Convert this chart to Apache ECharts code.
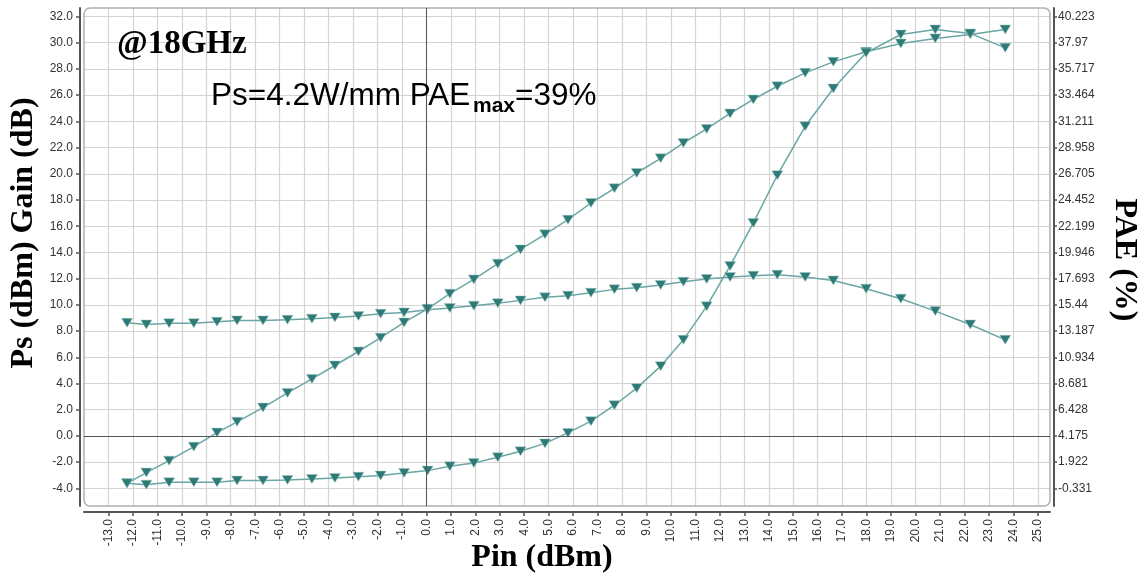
<!DOCTYPE html>
<html>
<head>
<meta charset="utf-8">
<script src="https://cdn.jsdelivr.net/npm/echarts@6/dist/echarts.min.js"></script>
<style>
html,body{margin:0;padding:0;background:#fff;}
#chart{width:1142px;height:574px;}
</style>
</head>
<body>
<div id="chart"></div>
<script>
// Pin (dBm) for every measured point
const pin = [-12.24, -11.45, -10.52, -9.51, -8.56, -7.74, -6.68, -5.68, -4.68, -3.74,
  -2.78, -1.87, -0.91, 0.05, 0.96, 1.94, 2.92, 3.85, 4.85, 5.79,
  6.73, 7.69, 8.60, 9.58, 10.51, 11.46, 12.42, 13.37, 14.35, 15.49,
  16.64, 17.98, 19.40, 20.81, 22.24, 23.67];
// Gain (dB)
const gain = [8.63, 8.50, 8.60, 8.60, 8.71, 8.81, 8.81, 8.86, 8.94, 9.04,
  9.14, 9.32, 9.42, 9.62, 9.75, 9.93, 10.13, 10.34, 10.57, 10.70,
  10.92, 11.18, 11.31, 11.51, 11.76, 11.97, 12.12, 12.22, 12.30, 12.12,
  11.86, 11.23, 10.47, 9.52, 8.50, 7.33];
// Ps (dBm)
const ps = [-3.62, -2.80, -1.89, -0.82, 0.25, 1.07, 2.16, 3.28, 4.35, 5.37,
  6.44, 7.49, 8.66, 9.70, 10.85, 11.94, 13.14, 14.23, 15.38, 16.50,
  17.77, 18.89, 20.06, 21.18, 22.35, 23.42, 24.60, 25.67, 26.68, 27.70,
  28.54, 29.31, 29.94, 30.33, 30.63, 31.01];
// PAE (%)
const pae = [0.10, -0.02, 0.19, 0.19, 0.19, 0.33, 0.33, 0.39, 0.47, 0.56,
  0.67, 0.76, 0.99, 1.19, 1.56, 1.85, 2.34, 2.85, 3.53, 4.43,
  5.44, 6.81, 8.28, 10.17, 12.43, 15.31, 18.78, 22.48, 26.58, 30.79,
  34.04, 37.10, 38.68, 39.11, 38.77, 37.53];

// tick labels
const xTicks = [-13,-12,-11,-10,-9,-8,-7,-6,-5,-4,-3,-2,-1,0,1,2,3,4,5,6,7,8,9,10,11,12,13,14,15,16,17,18,19,20,21,22,23,24,25];
const yTicks = [-4,-2,0,2,4,6,8,10,12,14,16,18,20,22,24,26,28,30,32];
const paeTicks = ['-0.331','1.922','4.175','6.428','8.681','10.934','13.187','15.44','17.693','19.946','22.199','24.452','26.705','28.958','31.211','33.464','35.717','37.97','40.223'];

// axis extents
const xMin = -14, xMax = 25.5;
const yMin = -5.35, yMax = 32.65;
const paeStep = (parseFloat(paeTicks[paeTicks.length-1]) - parseFloat(paeTicks[0])) / (paeTicks.length - 1);
const paeAt = v => parseFloat(paeTicks[0]) + (v - yTicks[0]) / 2 * paeStep;

const G = {left: 84, top: 8, width: 966, height: 498};

const zip = (xs, ys) => xs.map((x, i) => [x, ys[i]]);

const lineColor = '#6aa6a4';
const markColor = '#2d7a77';
const tickFont = {fontFamily: 'Liberation Sans', fontSize: 12, color: '#333'};
const axisLineStyle = {color: '#555', width: 2};

function mkSeries(name, data, yAxisIndex, extra) {
  return Object.assign({
    name, type: 'line', data: zip(pin, data), yAxisIndex,
    symbol: 'triangle', symbolRotate: 180, symbolSize: [11, 9],
    showSymbol: true,
    lineStyle: {color: lineColor, width: 1.5},
    itemStyle: {color: markColor, borderColor: 'rgba(160,200,198,0.8)', borderWidth: 0.6},
    emphasis: {disabled: true},
    animation: false, z: 3
  }, extra || {});
}

const chart = echarts.init(document.getElementById('chart'), null, {renderer: 'canvas'});
chart.setOption({
  backgroundColor: '#fff',
  animation: false,
  grid: {left: G.left, top: G.top, width: G.width, height: G.height, containLabel: false},
  xAxis: {
    type: 'value', min: xMin, max: xMax, interval: 1, offset: 6,
    axisLine: {show: true, onZero: false, lineStyle: axisLineStyle},
    axisTick: {show: true, length: 4, customValues: xTicks, lineStyle: {color: '#555', width: 1.5}},
    axisLabel: Object.assign({customValues: xTicks, rotate: 90, margin: 7, formatter: v => v.toFixed(1)}, tickFont),
    splitLine: {show: true, lineStyle: {color: '#d4d4d4', width: 1.2}}
  },
  yAxis: [{
    type: 'value', min: yMin, max: yMax, splitNumber: 19, offset: 4, position: 'left',
    axisLine: {show: true, onZero: false, lineStyle: axisLineStyle},
    axisTick: {show: true, length: 4, customValues: yTicks, lineStyle: {color: '#555', width: 1.5}},
    axisLabel: Object.assign({customValues: yTicks, margin: 7, formatter: v => v.toFixed(1)}, tickFont),
    splitLine: {show: true, lineStyle: {color: '#d4d4d4', width: 1.2}}
  }, {
    type: 'value', min: paeAt(yMin), max: paeAt(yMax), offset: 4, position: 'right',
    axisLine: {show: true, onZero: false, lineStyle: axisLineStyle},
    axisTick: {show: true, length: 3, customValues: paeTicks.map(parseFloat), lineStyle: {color: '#555', width: 1.5}},
    axisLabel: Object.assign({customValues: paeTicks.map(parseFloat), margin: 4,
      formatter: v => String(parseFloat(v.toFixed(3)))}, tickFont),
    splitLine: {show: false}
  }],
  series: [
    mkSeries('Gain', gain, 0, {
      markLine: {
        silent: true, symbol: ['none', 'none'], animation: false,
        label: {show: false},
        lineStyle: {color: '#555', width: 1, type: 'solid'},
        emphasis: {disabled: true},
        data: [{xAxis: 0}, {yAxis: 0}]
      }
    }),
    mkSeries('Ps', ps, 0),
    mkSeries('PAE', pae, 1)
  ],
  graphic: [
    {type: 'rect', z: 1, silent: true,
     shape: {x: G.left, y: G.top, width: G.width, height: G.height, r: 6},
     style: {fill: 'none', stroke: '#b0b0b0', lineWidth: 1.5}},
    {type: 'text', z: 10, x: 117, y: 44, silent: true,
     style: {text: '@18GHz', font: 'bold 33px "Liberation Serif"', fill: '#000',
       textAlign: 'left', textVerticalAlign: 'middle', align: 'left', verticalAlign: 'middle'}},
    {type: 'text', z: 10, x: 211, y: 96, silent: true,
     style: {text: 'Ps=4.2W/mm PAE', font: '31.5px "Liberation Sans"', fill: '#000',
       textAlign: 'left', textVerticalAlign: 'middle', align: 'left', verticalAlign: 'middle'}},
    {type: 'text', z: 10, x: 473, y: 106, silent: true,
     style: {text: 'max', font: 'bold 21px "Liberation Sans"', fill: '#000',
       textAlign: 'left', textVerticalAlign: 'middle', align: 'left', verticalAlign: 'middle'}},
    {type: 'text', z: 10, x: 515, y: 96, silent: true,
     style: {text: '=39%', font: '31.5px "Liberation Sans"', fill: '#000',
       textAlign: 'left', textVerticalAlign: 'middle', align: 'left', verticalAlign: 'middle'}},
    {type: 'text', z: 10, x: 542, y: 558, silent: true,
     style: {text: 'Pin (dBm)', font: 'bold 32px "Liberation Serif"', fill: '#000',
       textAlign: 'center', textVerticalAlign: 'middle', align: 'center', verticalAlign: 'middle'}},
    {type: 'text', z: 10, x: 24, y: 233, rotation: Math.PI / 2, silent: true,
     style: {text: 'Ps (dBm) Gain (dB)', font: 'bold 32px "Liberation Serif"', fill: '#000',
       textAlign: 'center', textVerticalAlign: 'middle', align: 'center', verticalAlign: 'middle'}},
    {type: 'text', z: 10, x: 1124, y: 260, rotation: -Math.PI / 2, silent: true,
     style: {text: 'PAE (%)', font: 'bold 32px "Liberation Serif"', fill: '#000',
       textAlign: 'center', textVerticalAlign: 'middle', align: 'center', verticalAlign: 'middle'}}
  ]
});
</script>
</body>
</html>
